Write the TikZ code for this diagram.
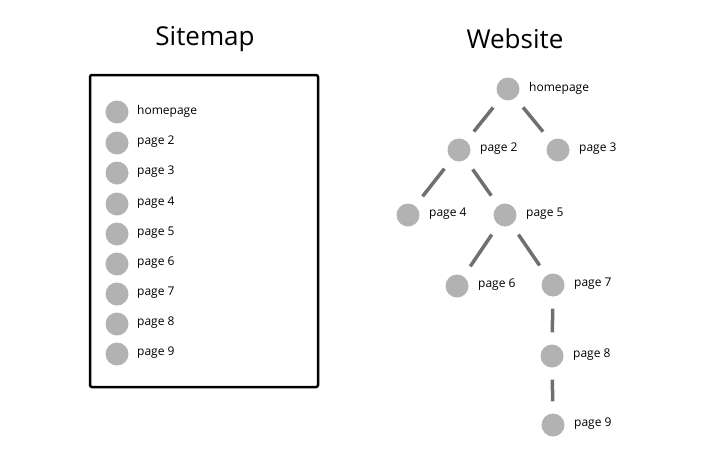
\documentclass[tikz,border=0pt]{standalone}
\usepackage{fontspec}
\setmainfont{Open Sans}
\begin{document}
\begin{tikzpicture}[x=1pt,y=-1pt,
  dot/.style={circle,fill=black!30,minimum size=23pt,inner sep=0pt},
  lbl/.style={anchor=west,font=\fontsize{12}{14}\selectfont,inner sep=0pt},
  link/.style={draw=black!56,line width=3.5pt,shorten >=12pt,shorten <=12pt}]
\useasboundingbox (0,0) rectangle (715,456);
\node[font=\fontsize{26}{30}\selectfont] (t1) at (205,39) {Sitemap};
\node[font=\fontsize{26}{30}\selectfont] (t2) at (515,39) {Website};
\draw[line width=2.5pt,rounded corners=2pt] (90,75) rectangle (318,387);
\foreach \y/\t [count=\i] in {112/homepage,143/page 2,173/page 3,204/page 4,234/page 5,264/page 6,294/page 7,324/page 8,354/page 9}{
  \node[dot] (s\i) at (117,\y) {};
  \node[lbl] (sl\i) at (137,\y-1) {\t};
}
\foreach \n/\x/\y/\t in {h/508/89/homepage,p2/459/150/page 2,p3/558/150/page 3,p4/408/215/page 4,p5/505/215/page 5,p6/457/286/page 6,p7/553/285/page 7,p8/552/356/page 8,p9/553/425/page 9}{
  \node[dot] (\n) at (\x,\y) {};
  \node[lbl] (\n l) at (\x+21,\y-1) {\t};
}
\draw[link] (h)--(p2); \draw[link] (h)--(p3);
\draw[link] (p2)--(p4); \draw[link] (p2)--(p5);
\draw[link] (p5)--(p6); \draw[link] (p5)--(p7);
\draw[link] (p7)--(p8); \draw[link] (p8)--(p9);
\end{tikzpicture}
\end{document}
